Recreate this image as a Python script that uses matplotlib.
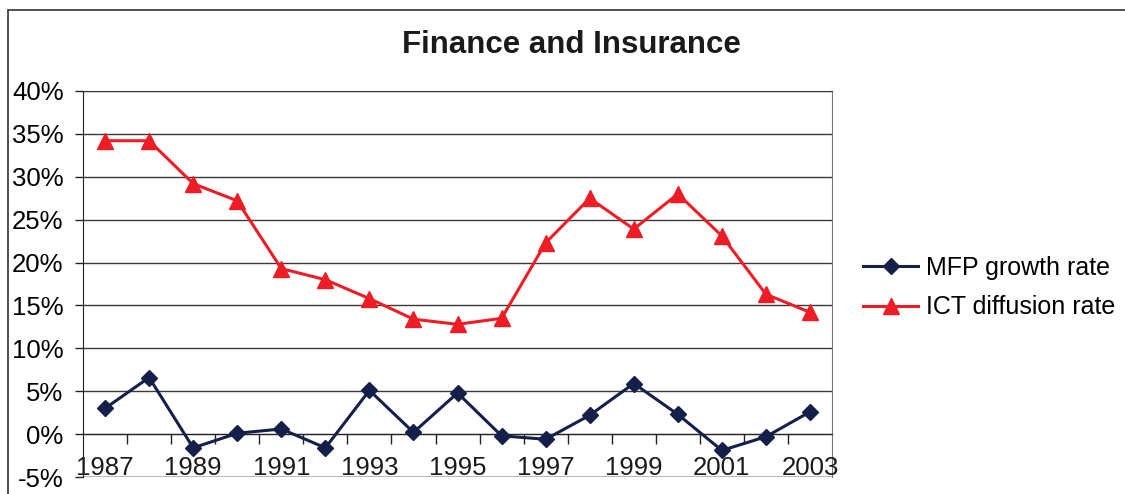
import matplotlib
matplotlib.use("Agg")
import matplotlib.pyplot as plt
from matplotlib.patches import Rectangle
from matplotlib.ticker import FuncFormatter, FixedLocator

plt.rcParams["font.family"] = ["Liberation Sans", "DejaVu Sans"]

# ---- data (percent) ----
years = list(range(1987, 2004))
mfp_growth = [3.0, 6.6, -1.6, 0.1, 0.6, -1.6, 5.1, 0.2, 4.8, -0.2,
              -0.6, 2.2, 5.9, 2.3, -1.9, -0.3, 2.6]
ict_diffusion = [34.2, 34.2, 29.2, 27.2, 19.3, 18.0, 15.8, 13.4, 12.8, 13.5,
                 22.3, 27.5, 23.9, 28.0, 23.1, 16.3, 14.2]
y_ticks = list(range(-5, 45, 5))

NAVY = "#141f4a"
RED = "#ee1c25"

fig = plt.figure(figsize=(11.25, 4.94), dpi=100)
ax = fig.add_axes([0.0738, 0.0344, 0.6658, 0.7814])

x = list(range(len(years)))
ax.plot(x, mfp_growth, color=NAVY, lw=2.2, marker="D", markersize=8,
        label="MFP growth rate", zorder=3)
ax.plot(x, ict_diffusion, color=RED, lw=2.2, marker="^", markersize=11,
        label="ICT diffusion rate", zorder=3)

ax.set_xlim(-0.5, len(years) - 0.5)
ax.set_ylim(-5, 40)

# horizontal grid
ax.set_yticks(y_ticks)
ax.yaxis.set_major_formatter(FuncFormatter(lambda v, p: f"{v:.0f}%"))
ax.grid(axis="y", color="#3a3a3a", lw=1.0)
ax.tick_params(axis="y", labelsize=18.5, length=6, width=1, pad=8, color="#222222")

# category axis crossing at zero, ticks on category boundaries
ax.spines["bottom"].set_position(("data", 0))
ax.spines["bottom"].set_color("#222222")
ax.spines["left"].set_color("#222222")
ax.spines["top"].set_color("#3a3a3a")
ax.spines["right"].set_color("#777777")
ax.xaxis.set_major_locator(FixedLocator([i + 0.5 for i in x[:-1]]))
ax.tick_params(axis="x", length=7, width=1, labelbottom=False, color="#222222")
ax.axhline(-5, color="#3a3a3a", lw=1.0, zorder=1)

for i, yr in enumerate(years):
    if i % 2 == 0:
        ax.text(i, -4.0, str(yr), ha="center", va="center", fontsize=18.5,
                color="#1a1a1a", zorder=4)

fig.text(0.508, 0.909, "Finance and Insurance", ha="center", va="center",
         fontsize=22.5, fontweight="bold", color="#1a1a1a")

fig.legend(*ax.get_legend_handles_labels(), loc="center left",
           bbox_to_anchor=(863 / 1125, 0.418), frameon=False, borderpad=0,
           borderaxespad=0, fontsize=18, handlelength=2.2, handletextpad=0.3,
           labelspacing=0.62)

# outer chart border
fig.patches.append(Rectangle((8 / 1125, -0.2), 1.5, 1.2 - 10 / 494,
                             transform=fig.transFigure, fill=False,
                             edgecolor="#333333", lw=1.2))

fig.savefig("out.png", dpi=100)
